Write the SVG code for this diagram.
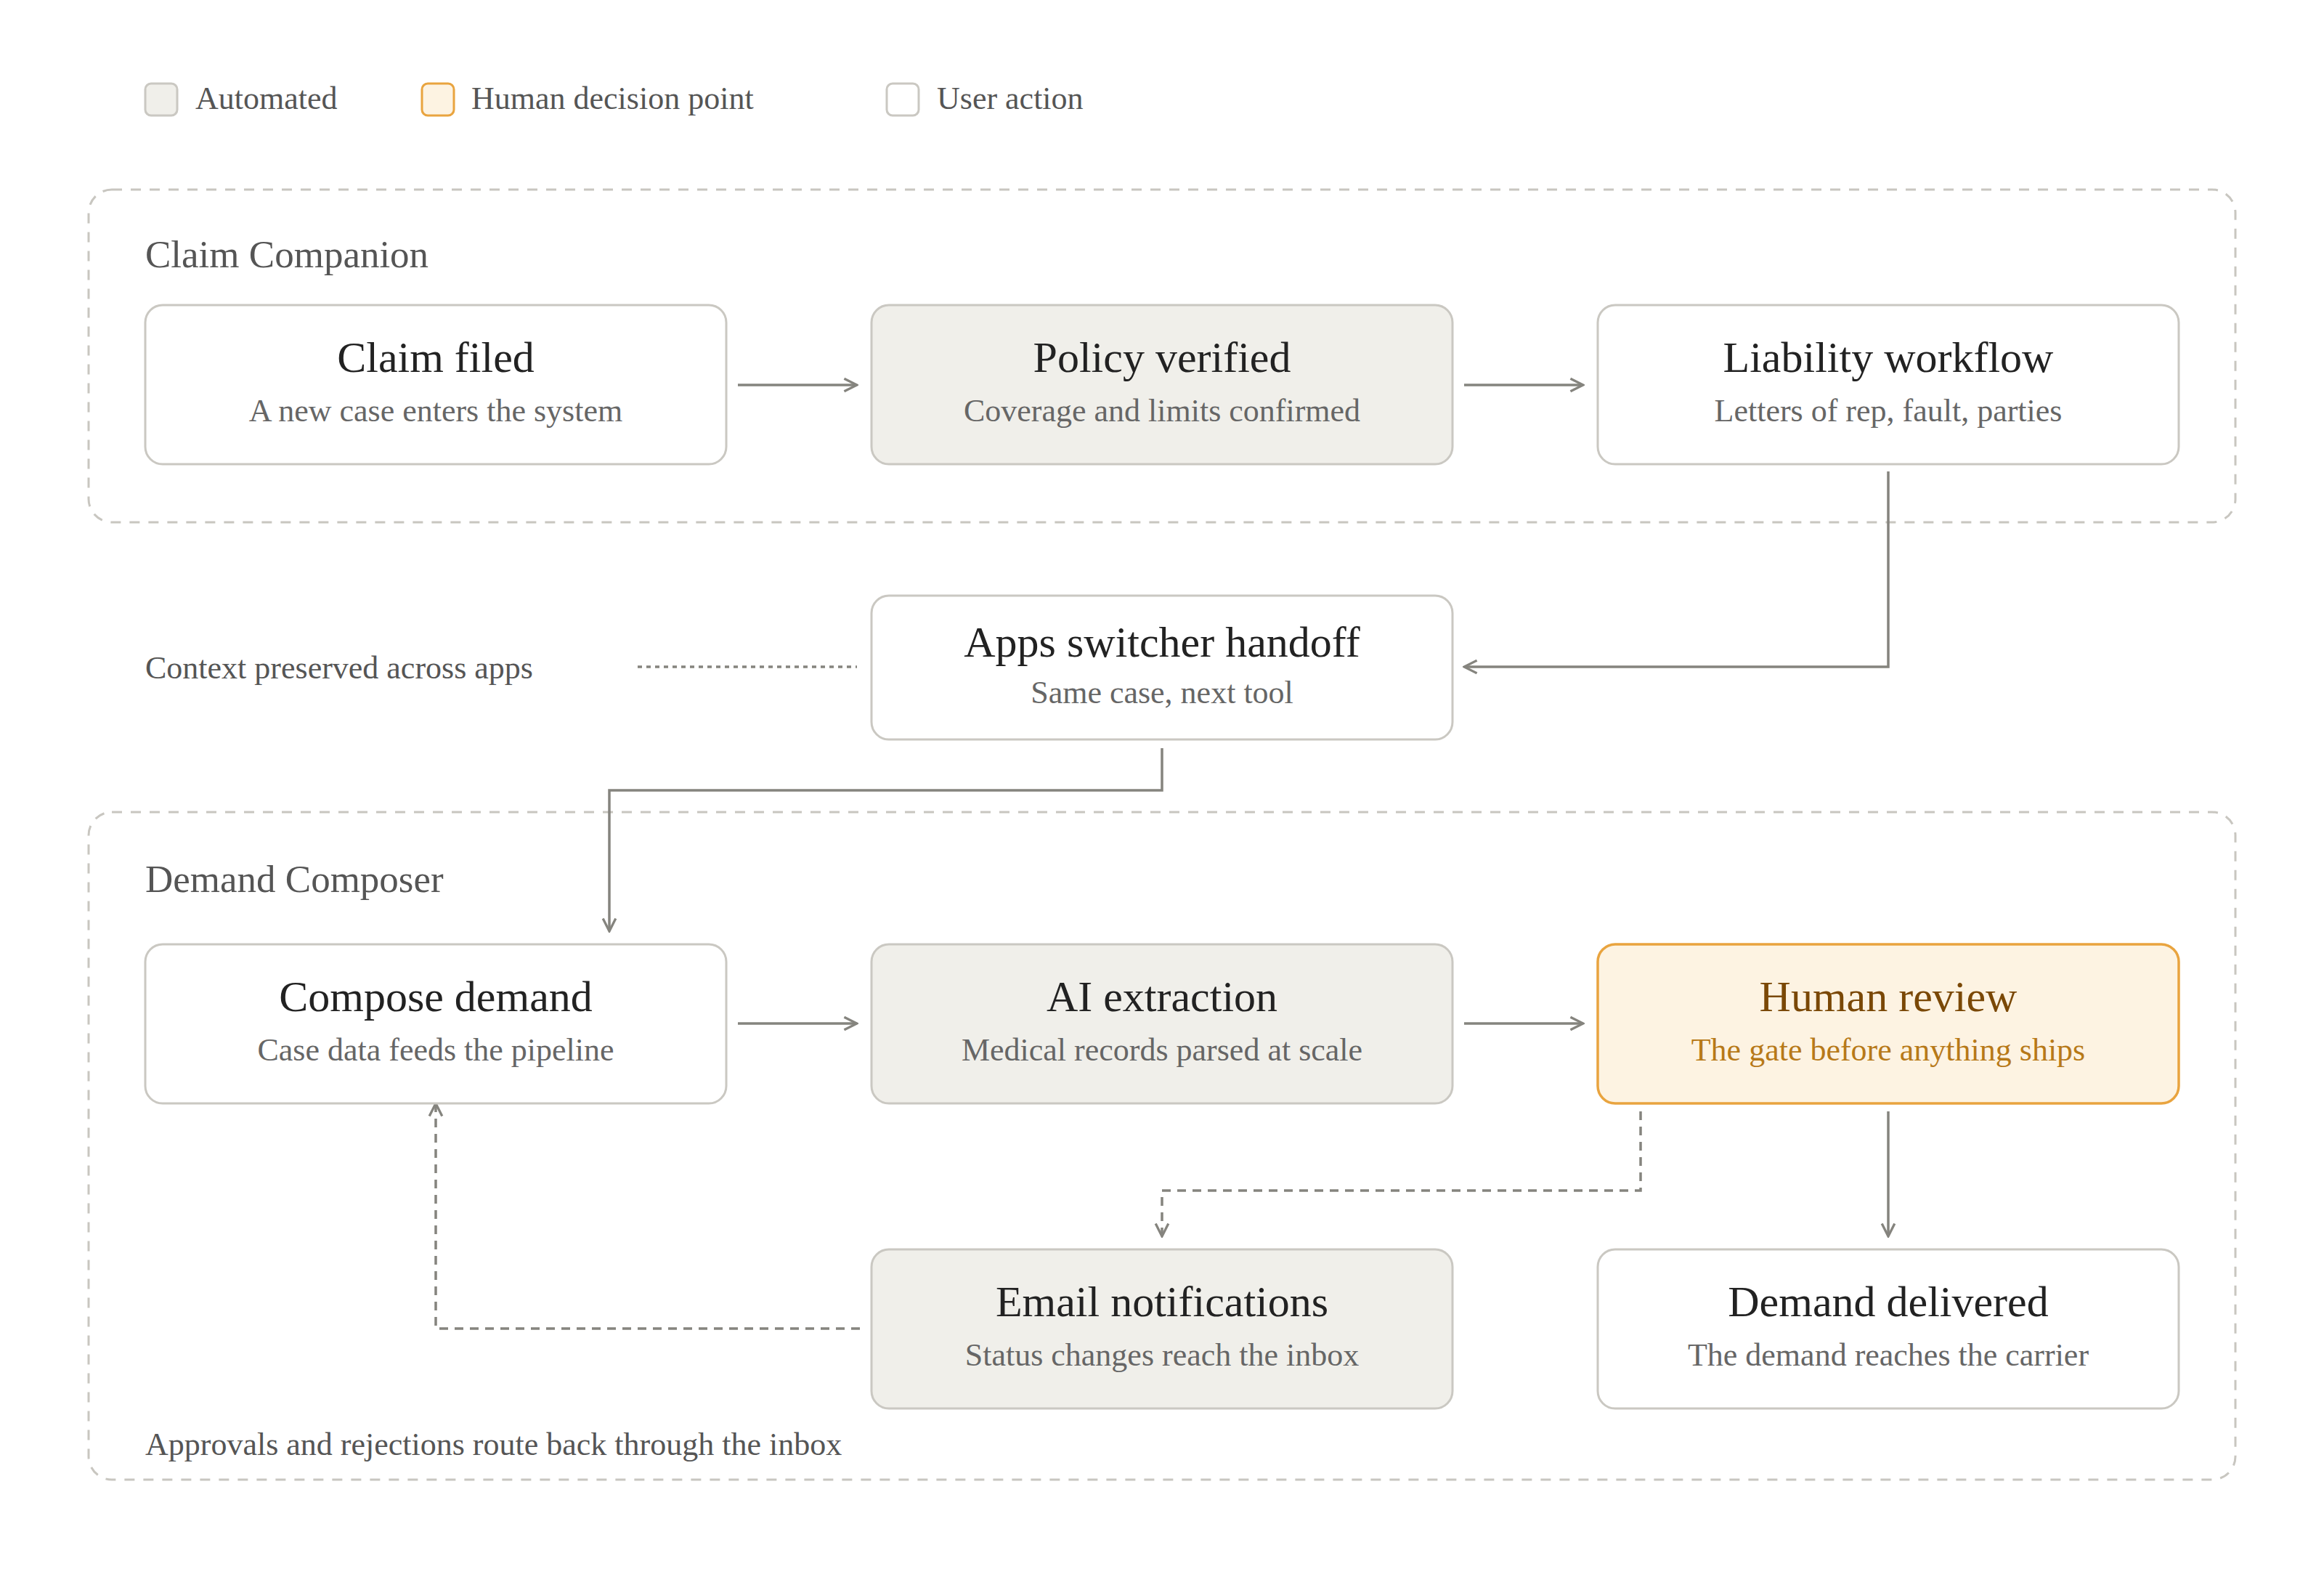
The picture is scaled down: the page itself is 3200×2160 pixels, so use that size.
<svg xmlns="http://www.w3.org/2000/svg" width="3200" height="2160" viewBox="0 0 3200 2160">
<style>
text{font-family:"Liberation Serif","DejaVu Serif",serif}
.box{stroke:#cac8c2;stroke-width:3;fill:#fff}
.auto{fill:#f0efea}
.human{fill:#fdf3e2;stroke:#e9a43f;stroke-width:3.5}
.t{font-size:60px;fill:#222;text-anchor:middle}
.s{font-size:44px;fill:#666;text-anchor:middle}
.ht{fill:#7a4806}
.hs{fill:#b77918}
.grp{fill:none;stroke:#c8c6c0;stroke-width:3;stroke-dasharray:14 12}
.gt{font-size:53px;fill:#555}
.lg{font-size:44px;fill:#555}
.c{fill:none;stroke:#85847e;stroke-width:3.5}
.d{stroke-dasharray:12 9}
</style>
<defs>
<marker id="a" viewBox="0 0 10 10" refX="9" refY="5" markerWidth="22" markerHeight="22" markerUnits="userSpaceOnUse" orient="auto">
<path d="M1 1L9 5L1 9" fill="none" stroke="#85847e" stroke-width="1.5"/>
</marker>
</defs>
<rect width="3200" height="2160" fill="#fff"/>
<g id="legend">
<rect x="200" y="115" width="44" height="44" rx="8" fill="#f0efea" stroke="#cac8c2" stroke-width="3"/>
<text class="lg" x="269" y="150">Automated</text>
<rect x="581" y="115" width="44" height="44" rx="8" fill="#fdf3e2" stroke="#e9a43f" stroke-width="3"/>
<text class="lg" x="649" y="150">Human decision point</text>
<rect x="1221" y="115" width="44" height="44" rx="8" fill="#fff" stroke="#cac8c2" stroke-width="3"/>
<text class="lg" x="1290" y="150">User action</text>
</g>
<g id="group-claim">
<rect class="grp" x="122" y="261" width="2956" height="458" rx="32"/>
<text class="gt" x="200" y="368">Claim Companion</text>
</g>
<g id="group-demand">
<rect class="grp" x="122" y="1118" width="2956" height="919" rx="32"/>
<text class="gt" x="200" y="1228">Demand Composer</text>
<text class="lg" x="200" y="2003">Approvals and rejections route back through the inbox</text>
</g>
<g id="connectors">
<path class="c" d="M1016 530H1180" marker-end="url(#a)"/>
<path class="c" d="M2016 530H2180" marker-end="url(#a)"/>
<path class="c" d="M2600 649V918H2016" marker-end="url(#a)"/>
<path class="c" d="M878 918H1180" stroke-dasharray="6 6" stroke="#aaa" stroke-width="2.5"/>
<path class="c" d="M1600 1030V1088H839V1282" marker-end="url(#a)"/>
<path class="c" d="M1016 1409H1180" marker-end="url(#a)"/>
<path class="c" d="M2016 1409H2180" marker-end="url(#a)"/>
<path class="c" d="M2600 1530V1702" marker-end="url(#a)"/>
<path class="c d" d="M2259 1530V1639H1600V1702" marker-end="url(#a)"/>
<path class="c d" d="M1184 1829H600V1519" marker-end="url(#a)"/>
</g>
<g id="claim-filed">
<rect class="box" x="200" y="420" width="800" height="219" rx="24"/>
<text class="t" x="600" y="512">Claim filed</text>
<text class="s" x="600" y="580">A new case enters the system</text>
</g>
<g id="policy-verified">
<rect class="box auto" x="1200" y="420" width="800" height="219" rx="24"/>
<text class="t" x="1600" y="512">Policy verified</text>
<text class="s" x="1600" y="580">Coverage and limits confirmed</text>
</g>
<g id="liability-workflow">
<rect class="box" x="2200" y="420" width="800" height="219" rx="24"/>
<text class="t" x="2600" y="512">Liability workflow</text>
<text class="s" x="2600" y="580">Letters of rep, fault, parties</text>
</g>
<g id="context-note">
<text class="lg" x="200" y="934">Context preserved across apps</text>
</g>
<g id="apps-switcher">
<rect class="box" x="1200" y="820" width="800" height="198" rx="24"/>
<text class="t" x="1600" y="904">Apps switcher handoff</text>
<text class="s" x="1600" y="968">Same case, next tool</text>
</g>
<g id="compose-demand">
<rect class="box" x="200" y="1300" width="800" height="219" rx="24"/>
<text class="t" x="600" y="1392">Compose demand</text>
<text class="s" x="600" y="1460">Case data feeds the pipeline</text>
</g>
<g id="ai-extraction">
<rect class="box auto" x="1200" y="1300" width="800" height="219" rx="24"/>
<text class="t" x="1600" y="1392">AI extraction</text>
<text class="s" x="1600" y="1460">Medical records parsed at scale</text>
</g>
<g id="human-review">
<rect class="box human" x="2200" y="1300" width="800" height="219" rx="24"/>
<text class="t ht" x="2600" y="1392">Human review</text>
<text class="s hs" x="2600" y="1460">The gate before anything ships</text>
</g>
<g id="email-notifications">
<rect class="box auto" x="1200" y="1720" width="800" height="219" rx="24"/>
<text class="t" x="1600" y="1812">Email notifications</text>
<text class="s" x="1600" y="1880">Status changes reach the inbox</text>
</g>
<g id="demand-delivered">
<rect class="box" x="2200" y="1720" width="800" height="219" rx="24"/>
<text class="t" x="2600" y="1812">Demand delivered</text>
<text class="s" x="2600" y="1880">The demand reaches the carrier</text>
</g>
</svg>
